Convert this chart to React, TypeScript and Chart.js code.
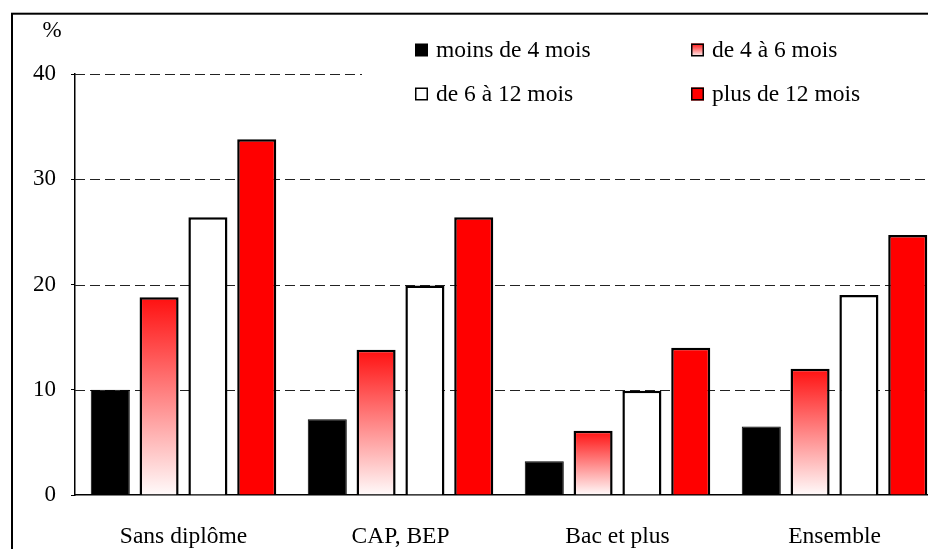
import React, { useEffect, useRef } from 'react';
import { Chart, registerables } from 'chart.js';

Chart.register(...registerables);

const categories = ['Sans diplôme', 'CAP, BEP', 'Bac et plus', 'Ensemble'];
const seriesLabels = ['moins de 4 mois', 'de 4 à 6 mois', 'de 6 à 12 mois', 'plus de 12 mois'];
const moins4 = [10.0, 7.2, 3.2, 6.5];
const de4a6 = [18.8, 13.8, 6.1, 12.0];
const de6a12 = [26.4, 19.9, 9.9, 19.0];
const plus12 = [33.8, 26.4, 14.0, 24.7];
const gridValues = [10, 20, 30, 40];
const unitLabel = '%';

const FONT = '"Liberation Serif", "Times New Roman", serif';

function redGradient(ctx: CanvasRenderingContext2D, top: number, bottom: number) {
  const g = ctx.createLinearGradient(0, top, 0, bottom);
  g.addColorStop(0, '#ff1010');
  g.addColorStop(1, '#fffafa');
  return g;
}

const decorPlugin = {
  id: 'decor',
  beforeDatasetsDraw(chart: any) {
    const { ctx, chartArea, scales } = chart;
    ctx.save();
    ctx.strokeStyle = '#222';
    ctx.lineWidth = 1;
    ctx.setLineDash([10, 5]);
    for (const v of gridValues) {
      const y = Math.round(scales.y.getPixelForValue(v)) + 0.5;
      ctx.beginPath();
      ctx.moveTo(chartArea.left, y);
      ctx.lineTo(chartArea.right, y);
      ctx.stroke();
    }
    ctx.restore();
  },
  afterDraw(chart: any) {
    const { ctx } = chart;
    ctx.save();
    ctx.fillStyle = '#ffffff';
    ctx.fillRect(362, 22, 640, 96);
    const cols = [415, 691];
    const rows = [50, 94];
    const size = 13;
    chart.data.datasets.forEach((ds: any, i: number) => {
      const x = cols[i % 2];
      const yc = rows[Math.floor(i / 2)];
      const top = yc - size / 2;
      if (i === 0) {
        ctx.fillStyle = '#000';
        ctx.fillRect(x, top, size, size);
      } else {
        ctx.fillStyle = i === 1 ? redGradient(ctx, top, top + size) : i === 2 ? '#fff' : '#ff0000';
        ctx.fillRect(x, top, size, size);
        ctx.strokeStyle = '#000';
        ctx.lineWidth = 1.5;
        ctx.strokeRect(x + 0.75, top + 0.75, size - 1.5, size - 1.5);
      }
      ctx.fillStyle = '#000';
      ctx.font = `23.5px ${FONT}`;
      ctx.textAlign = 'left';
      ctx.textBaseline = 'middle';
      ctx.fillText(ds.label, x + 21, yc + 1);
    });
    ctx.font = `23px ${FONT}`;
    ctx.textAlign = 'center';
    ctx.textBaseline = 'middle';
    ctx.fillText(unitLabel, 52, 31);
    ctx.strokeStyle = '#000';
    ctx.lineWidth = 2;
    ctx.strokeRect(12, 13.7, 2000, 2000);
    ctx.restore();
  },
};

export default function App() {
  const ref = useRef<HTMLCanvasElement | null>(null);
  useEffect(() => {
    if (!ref.current) return;
    const gradientFill = (c: any) => {
      const chart = c.chart;
      const y = chart.scales && chart.scales.y;
      if (!y || c.raw == null || !chart.chartArea) return '#ff8080';
      const top = y.getPixelForValue(c.raw);
      const bottom = y.getPixelForValue(0);
      if (!isFinite(top) || !isFinite(bottom) || top === bottom) return '#ff8080';
      return redGradient(chart.ctx, top, bottom);
    };
    const chart = new Chart(ref.current, {
      type: 'bar',
      data: {
        labels: categories,
        datasets: [
          { label: seriesLabels[0], data: moins4, backgroundColor: '#000', borderColor: '#000', borderWidth: 1 },
          { label: seriesLabels[1], data: de4a6, backgroundColor: gradientFill, borderColor: '#000', borderWidth: 2.5 },
          { label: seriesLabels[2], data: de6a12, backgroundColor: '#fff', borderColor: '#000', borderWidth: 2.5 },
          { label: seriesLabels[3], data: plus12, backgroundColor: '#ff0000', borderColor: '#000', borderWidth: 2.5 },
        ],
      },
      options: {
        animation: false,
        responsive: false,
        devicePixelRatio: 1,
        layout: { padding: { left: 0, right: 17, top: 74, bottom: 0 } },
        datasets: { bar: { categoryPercentage: 0.9, barPercentage: 0.8 } },
        plugins: { legend: { display: false }, tooltip: { enabled: false }, title: { display: false } },
        scales: {
          x: {
            type: 'category',
            grid: { display: false },
            border: { display: true, color: '#000', width: 1.5 },
            ticks: {
              color: '#000',
              font: { family: FONT, size: 23.5 },
              padding: 20,
              maxRotation: 0,
              autoSkip: false,
            },
            afterFit: (s: any) => { s.height = 105; },
          },
          y: {
            min: 0,
            max: 40,
            grid: { display: true, drawOnChartArea: false, drawTicks: true, tickLength: 4, color: '#000' },
            border: { display: true, color: '#000', width: 1.5 },
            ticks: {
              stepSize: 10,
              color: '#000',
              font: { family: FONT, size: 23 },
              padding: 15,
            },
            afterFit: (s: any) => { s.width = 75; },
          },
        },
      },
      plugins: [decorPlugin],
    } as any);
    return () => chart.destroy();
  }, []);
  return (
    <div style={{ position: 'absolute', left: 0, top: 0, width: 928, height: 549, overflow: 'hidden', background: '#fff' }}>
      <canvas ref={ref} width={960} height={600} style={{ width: 960, height: 600, display: 'block' }} />
    </div>
  );
}
